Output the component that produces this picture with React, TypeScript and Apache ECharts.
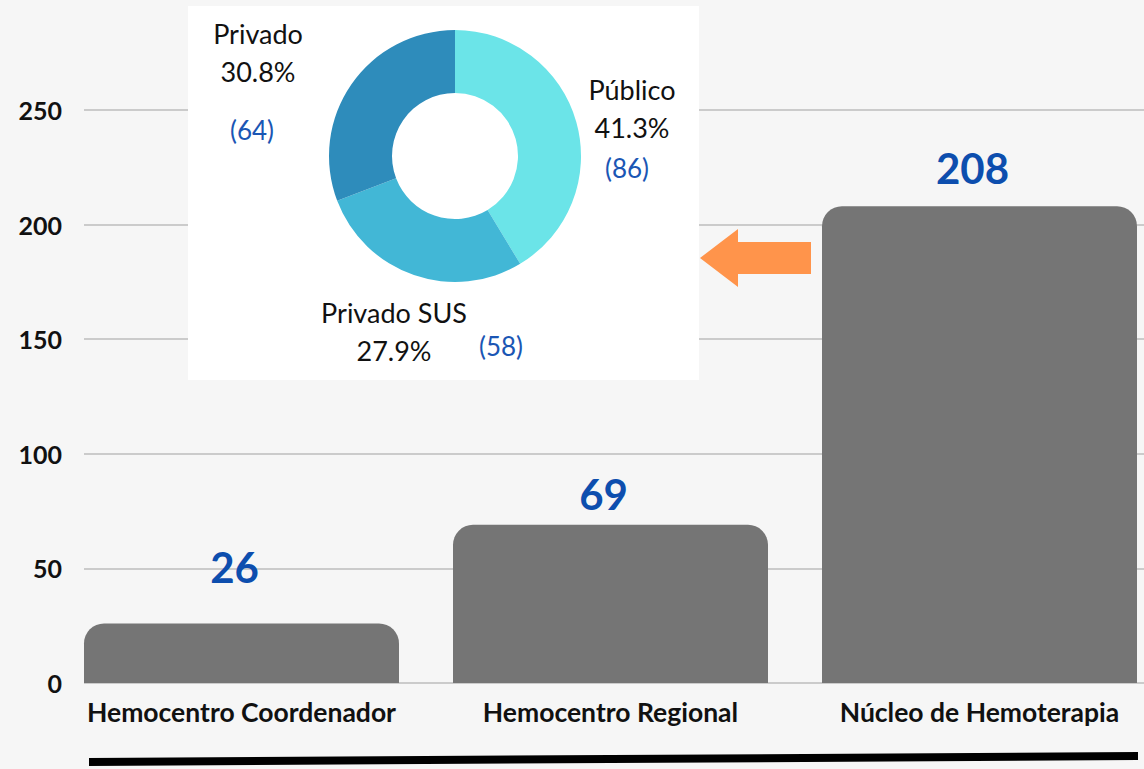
import React, { useEffect, useRef } from "react";
import * as echarts from "echarts";

const categories = ["Hemocentro Coordenador", "Hemocentro Regional", "Núcleo de Hemoterapia"];
const barValues = [26, 69, 208];
const yTicks = { min: 0, max: 250, interval: 50 };

const pieNames = ["Público", "Privado SUS", "Privado"];
const pieValues = [86, 58, 64];
const pieColors = ["#6BE4E8", "#42B7D6", "#2E8CBB"];

const FONT = "Lato, 'Noto Sans', sans-serif";

// label gap above each bar (styling)
const barLabelDistance = [35, 10, 17];

const nameLabelPos = [
  [632, 108],
  [394, 331],
  [258, 52],
];
const countLabelPos = [
  [627, 168],
  [501, 346],
  [252, 130],
];

export default function App() {
  const ref = useRef<HTMLDivElement>(null);
  useEffect(() => {
    if (!ref.current) return;
    const chart = echarts.init(ref.current, null, { renderer: "svg" });
    const total = pieValues.reduce((a, b) => a + b, 0);
    const pieData = pieNames.map((n, i) => ({
      name: n,
      value: pieValues[i],
      itemStyle: { color: pieColors[i] },
    }));
    const barData = barValues.map((v, i) => ({
      value: v,
      label: { distance: barLabelDistance[i] },
    }));
    const option: any = {
      animation: false,
      backgroundColor: "#F6F6F6",
      grid: [
        { left: 241.5, right: 164.5, top: 110, bottom: 86, containLabel: false },
        { left: 84, right: 0, top: 110, bottom: 86, containLabel: false },
      ],
      xAxis: [
        {
          type: "category",
          gridIndex: 0,
          data: categories,
          boundaryGap: false,
          axisLine: { show: false },
          axisTick: { show: false },
          splitLine: { show: false },
          axisLabel: {
            interval: 0,
            hideOverlap: false,
            margin: 15,
            color: "#111",
            fontFamily: FONT,
            fontWeight: "bold",
            fontSize: 26.5,
          },
        },
        { type: "value", gridIndex: 1, show: false },
      ],
      yAxis: [
        {
          type: "value",
          gridIndex: 0,
          ...yTicks,
          show: false,
          splitLine: { show: false },
        },
        {
          type: "value",
          gridIndex: 1,
          ...yTicks,
          axisLine: { show: false },
          axisTick: { show: false },
          axisLabel: {
            margin: 22,
            color: "#111",
            fontFamily: FONT,
            fontWeight: "bold",
            fontSize: 25,
          },
          splitLine: { lineStyle: { color: "#BDBDBD", width: 1.5 } },
        },
      ],
      series: [
        {
          type: "bar",
          xAxisIndex: 0,
          yAxisIndex: 0,
          data: barData,
          barWidth: 315,
          clip: false,
          itemStyle: { color: "#757575", borderRadius: [20, 20, 0, 0] },
          label: {
            show: true,
            position: "top",
            offset: [-7, 0],
            color: "#0D4EAE",
            fontFamily: FONT,
            fontWeight: "bold",
            fontSize: 42,
          },
          z: 2,
        },
        {
          type: "pie",
          center: [455, 156],
          radius: [63, 126],
          startAngle: 90,
          clockwise: true,
          data: pieData,
          z: 3,
          label: {
            show: true,
            formatter: (p: any) =>
              `{n|${p.name}}\n{n|${((p.value / total) * 100).toFixed(1)}%}`,
            rich: {
              n: { fontFamily: FONT, fontSize: 27, color: "#111", lineHeight: 38 },
            },
          },
          labelLine: { show: false },
          labelLayout: (p: any) => ({
            x: nameLabelPos[p.dataIndex][0],
            y: nameLabelPos[p.dataIndex][1],
            align: "center",
            verticalAlign: "middle",
          }),
          emphasis: { disabled: true },
        },
        {
          type: "pie",
          center: [455, 156],
          radius: [63, 126],
          startAngle: 90,
          clockwise: true,
          silent: true,
          data: pieData.map((d) => ({ ...d, itemStyle: { color: "transparent" } })),
          z: 4,
          label: {
            show: true,
            formatter: (p: any) => `(${p.value})`,
            fontFamily: FONT,
            fontSize: 26,
            color: "#1A56B4",
          },
          labelLine: { show: false },
          labelLayout: (p: any) => ({
            x: countLabelPos[p.dataIndex][0],
            y: countLabelPos[p.dataIndex][1],
            align: "center",
            verticalAlign: "middle",
          }),
          emphasis: { disabled: true },
        },
      ],
      graphic: [
        {
          type: "rect",
          z: 1,
          shape: { x: 188, y: 6, width: 511, height: 374 },
          style: { fill: "#FFFFFF" },
        },
        {
          type: "polygon",
          z: 5,
          shape: {
            points: [
              [700, 258],
              [738, 229],
              [738, 242],
              [811, 242],
              [811, 274],
              [738, 274],
              [738, 287],
            ],
          },
          style: { fill: "#FF944B" },
        },
        {
          type: "polygon",
          z: 5,
          shape: {
            points: [
              [89, 758],
              [1138, 752],
              [1138, 760],
              [89, 766],
            ],
          },
          style: { fill: "#000000" },
        },
      ],
    };
    chart.setOption(option);
    return () => chart.dispose();
  }, []);
  return (
    <div
      ref={ref}
      style={{ position: "fixed", left: 0, top: 0, width: 1144, height: 769 }}
    />
  );
}
